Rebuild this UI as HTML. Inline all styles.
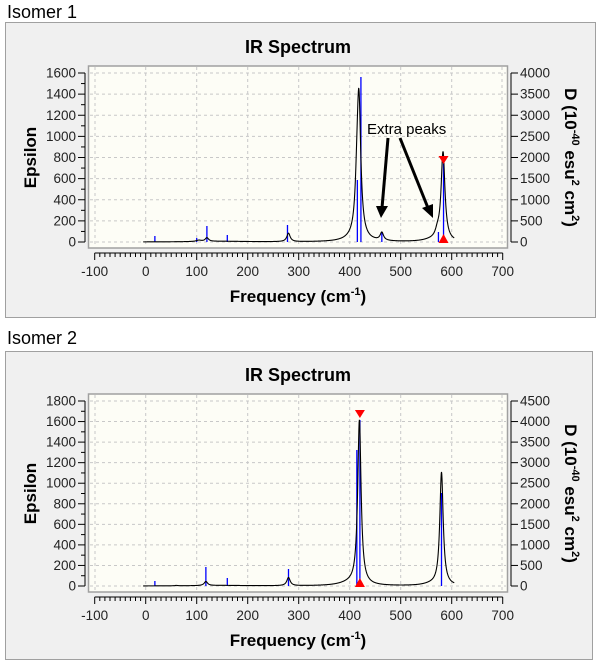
<!DOCTYPE html>
<html><head><meta charset="utf-8"><style>
html,body{margin:0;padding:0;background:#fff;}
svg{display:block;font-family:"Liberation Sans",Arial,sans-serif;}
</style></head><body>
<svg id="s" width="601" height="670" xmlns="http://www.w3.org/2000/svg"></svg>
<script>
const S=document.getElementById('s');
let h='';
function X(f){return 145.7+0.51*f;}
function panel(o){
  const {bx,by,bw,bh,pt,pb,y0,ymax,yTop,emax,estep,dmax,dstep,title,label,ly,curve,sticks,tri,tickY,labY,freqY,titleY}=o;
  h+=`<text x="7" y="${ly}" font-size="18" fill="#000">${label}</text>`;
  h+=`<rect x="${bx}" y="${by}" width="${bw}" height="${bh}" fill="#f0f0f0" stroke="#a0a0a0" stroke-width="1"/>`;
  h+=`<text x="298" y="${titleY}" font-size="18" font-weight="bold" text-anchor="middle">${title}</text>`;
  h+=`<rect x="88.5" y="${pt}" width="419" height="${pb-pt}" fill="#fdfdf6" stroke="#a0a0a0" stroke-width="1.5"/>`;
  const sc=(y0-yTop)/ymax;
  for(let f=0;f<=600;f+=100){h+=`<line x1="${X(f)}" y1="${pt+1}" x2="${X(f)}" y2="${pb-1}" stroke="#c8c8c8" stroke-dasharray="3,3"/>`;}
  h+=`<line x1="95" y1="${pt+1}" x2="95" y2="${pb-1}" stroke="#c8c8c8" stroke-dasharray="3,3"/>`;
  h+=`<line x1="502" y1="${pt+1}" x2="502" y2="${pb-1}" stroke="#c8c8c8" stroke-dasharray="3,3"/>`;
  for(let e=0;e<=emax;e+=estep){const y=y0-e*sc;h+=`<line x1="90" y1="${y}" x2="506" y2="${y}" stroke="#c8c8c8" stroke-dasharray="3,3"/>`;}
  h+=`<line x1="85" y1="${yTop}" x2="85" y2="${y0}" stroke="#000"/>`;
  for(let e=0;e<=emax;e+=estep/2){const y=y0-e*sc;const maj=(e%estep===0);h+=`<line x1="${maj?78:81}" y1="${y}" x2="85" y2="${y}" stroke="#000"/>`;if(maj)h+=`<text x="76" y="${y+4.5}" font-size="13.5" text-anchor="end" fill="#222">${e}</text>`;}
  h+=`<text transform="translate(36 ${(y0+yTop)/2}) rotate(-90)" font-size="17" font-weight="bold" text-anchor="middle">Epsilon</text>`;
  const dsc=(y0-yTop)/dmax;
  h+=`<line x1="511" y1="${yTop}" x2="511" y2="${y0}" stroke="#000"/>`;
  for(let d=0;d<=dmax;d+=dstep){const y=y0-d*dsc;h+=`<line x1="511" y1="${y}" x2="518" y2="${y}" stroke="#000"/><text x="520" y="${y+4.5}" font-size="13.5" fill="#222">${d}</text>`;}
  h+=`<text transform="translate(565 ${(y0+yTop)/2}) rotate(90)" font-size="17" font-weight="bold" text-anchor="middle">D (10<tspan dy="-7" font-size="11">-40</tspan><tspan dy="7"> esu</tspan><tspan dy="-7" font-size="11">2</tspan><tspan dy="7"> cm</tspan><tspan dy="-7" font-size="11">2</tspan><tspan dy="7">)</tspan></text>`;
  h+=`<line x1="${X(-100)}" y1="${tickY}" x2="${X(700)}" y2="${tickY}" stroke="#000"/>`;
  for(let f=-100;f<=700;f+=10){const maj=(f%100===0);h+=`<line x1="${X(f)}" y1="${tickY}" x2="${X(f)}" y2="${tickY+(maj?7:4)}" stroke="#000"/>`;if(maj)h+=`<text x="${X(f)}" y="${labY}" font-size="13.5" text-anchor="middle" fill="#222">${f}</text>`;}
  h+=`<text x="298" y="${freqY}" font-size="17" font-weight="bold" text-anchor="middle">Frequency (cm<tspan dy="-7" font-size="11">-1</tspan><tspan dy="7">)</tspan></text>`;
  for(const [f,t] of sticks){h+=`<line x1="${X(f)}" y1="${y0}" x2="${X(f)}" y2="${t}" stroke="#0000ff" stroke-width="1.3"/>`;}
  let p='';
  for(let f=-5;f<=605;f+=0.5){let e=0;for(const [c,a,w] of curve){e+=a*w*w/((f-c)*(f-c)+w*w);}const y=y0-e*sc;p+=(p?'L':'M')+X(f).toFixed(2)+','+y.toFixed(2);}
  h+=`<path d="${p}" fill="none" stroke="#000" stroke-width="1.1"/>`;
  if(tri){const x=X(tri[0]);h+=`<polygon points="${x-5},${tri[1]-4} ${x+5},${tri[1]-4} ${x},${tri[1]+4}" fill="#ff0000"/><polygon points="${x-5},${y0+1} ${x+5},${y0+1} ${x},${y0-8}" fill="#ff0000"/>`;}
}
panel({bx:5.5,by:22.5,bw:590,bh:295,pt:66,pb:248,y0:242,ymax:1600,yTop:73,emax:1600,estep:200,dmax:4000,dstep:500,
 title:'IR Spectrum',label:'Isomer 1',ly:18,titleY:53,tickY:253,labY:276,freqY:302,
 curve:[[120,35,4],[104,12,6],[280,80,4],[418,1300,4.5],[414,250,4],[463,75,4],[583,840,4.5],[572,60,5],[560,15,20],[150,6,60],[410,30,20]],
 sticks:[[18,236],[100,238],[120,226],[160,235],[278,225],[415,180],[422,77],[463,232],[574,232],[584,160]],
 tri:[584,160]});
h+=`<text x="367" y="134" font-size="15" fill="#000">Extra peaks</text>`;
h+=`<line x1="388" y1="138" x2="382" y2="208" stroke="#000" stroke-width="3"/><polygon points="376,206 388,206 381,218" fill="#000"/>`;
h+=`<line x1="400" y1="138" x2="428" y2="208" stroke="#000" stroke-width="3"/><polygon points="422,208 433,204 433,218" fill="#000"/>`;
panel({bx:5.5,by:351.5,bw:587,bh:308,pt:394,pb:592,y0:586,ymax:1800,yTop:401,emax:1800,estep:200,dmax:4500,dstep:500,
 title:'IR Spectrum',label:'Isomer 2',ly:344,titleY:381,tickY:597,labY:620,freqY:646,
 curve:[[118,40,4],[280,80,4],[419,1600,4],[580,1100,4],[150,5,60],[60,4,3],[400,25,25],[560,15,20]],
 sticks:[[18,581],[118,567],[160,578],[280,569],[414,450],[420,420],[580,493]],
 tri:[420,414]});
S.innerHTML=h;
</script>
</body></html>
